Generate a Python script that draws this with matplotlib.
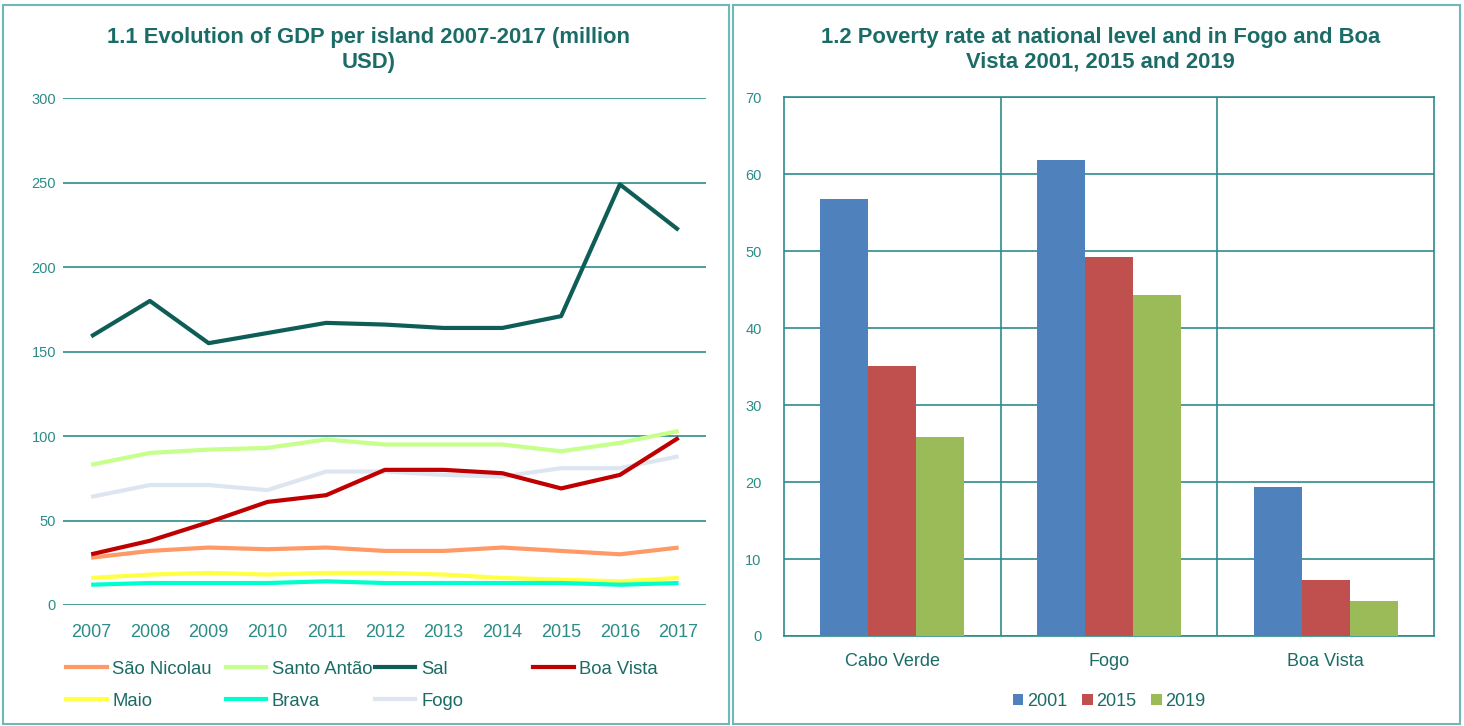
import matplotlib.pyplot as plt
import numpy as np
from matplotlib.patches import Rectangle
from matplotlib.lines import Line2D

plt.rcParams['font.family'] = ['Liberation Sans', 'DejaVu Sans']

# GDP per island, million USD
years = list(range(2007, 2018))
sao_nicolau = [28, 32, 34, 33, 34, 32, 32, 34, 32, 30, 34]
santo_antao = [83, 90, 92, 93, 98, 95, 95, 95, 91, 96, 103]
sal = [159, 180, 155, 161, 167, 166, 164, 164, 171, 249, 222]
boa_vista = [30, 38, 49, 61, 65, 80, 80, 78, 69, 77, 99]
maio = [16, 18, 19, 18, 19, 19, 18, 16, 15, 14, 16]
brava = [12, 13, 13, 13, 14, 13, 13, 13, 13, 12, 13]
fogo = [64, 71, 71, 68, 79, 79, 77, 76, 81, 81, 88]

# poverty rate
places = ['Cabo Verde', 'Fogo', 'Boa Vista']
pov_2001 = [56.8, 61.9, 19.3]
pov_2015 = [35.1, 49.3, 7.3]
pov_2019 = [25.8, 44.3, 4.5]

teal_dark = '#1b6b66'
teal_tick = '#2b8c88'
grid_col = '#2e8b8b'
border = '#6fb8b8'

fig = plt.figure(figsize=(14.64, 7.26), dpi=100)

# panel borders
fig.patches.append(Rectangle((0.002, 0.003), 0.496, 0.990, transform=fig.transFigure,
                             fill=False, ec=border, lw=1.5))
fig.patches.append(Rectangle((0.501, 0.003), 0.496, 0.990, transform=fig.transFigure,
                             fill=False, ec=border, lw=1.5))

# ---- left: lines ----
ax1 = fig.add_axes([0.043, 0.1667, 0.439, 0.698])
series = [
    ('São Nicolau', sao_nicolau, '#ff9966'),
    ('Santo Antão', santo_antao, '#c6ff8c'),
    ('Sal', sal, '#0e5e57'),
    ('Boa Vista', boa_vista, '#c00000'),
    ('Maio', maio, '#ffff44'),
    ('Brava', brava, '#00ffcc'),
    ('Fogo', fogo, '#dde6f0'),
]
draw_order = ['Fogo', 'Santo Antão', 'São Nicolau', 'Maio', 'Brava', 'Boa Vista', 'Sal']
lookup = {n: (v, c) for n, v, c in series}
for n in draw_order:
    v, c = lookup[n]
    ax1.plot(years, v, color=c, lw=3, solid_capstyle='butt', zorder=3)

ax1.set_xlim(2006.52, 2017.46)
ax1.set_ylim(0, 300)
ax1.set_yticks(range(0, 301, 50))
ax1.set_xticks(years)
ax1.yaxis.grid(True, color=grid_col, lw=1.2)
ax1.set_axisbelow(True)
for s in ax1.spines.values():
    s.set_visible(False)
ax1.tick_params(axis='both', length=0)
ax1.tick_params(axis='y', labelsize=10.5, labelcolor=teal_tick, pad=5)
ax1.tick_params(axis='x', labelsize=13, labelcolor=teal_tick, pad=14)
fig.text(0.252, 0.963, '1.1 Evolution of GDP per island 2007-2017 (million\nUSD)',
         ha='center', va='top', fontsize=15.8, fontweight='bold', color=teal_dark,
         linespacing=1.25)

# legend, one small legend per column so columns sit evenly
cols = [['São Nicolau', 'Maio'], ['Santo Antão', 'Brava'], ['Sal', 'Fogo'], ['Boa Vista']]
col_x = [0.040, 0.149, 0.251, 0.359]
for names, xpos in zip(cols, col_x):
    handles = [Line2D([], [], color=lookup[n][1], lw=3) for n in names]
    leg = fig.legend(handles, names, loc='upper left', bbox_to_anchor=(xpos, 0.1),
                     frameon=False, fontsize=13.3, handlelength=2.2, handletextpad=0.3,
                     labelspacing=0.8, borderaxespad=0)
    for t in leg.get_texts():
        t.set_color(teal_dark)

# ---- right: bars ----
ax2 = fig.add_axes([0.5355, 0.124, 0.444, 0.742])
x = np.arange(len(places))
w = 0.222
ax2.bar(x - w, pov_2001, w, color='#4f81bd', label='2001', zorder=3)
ax2.bar(x, pov_2015, w, color='#c0504d', label='2015', zorder=3)
ax2.bar(x + w, pov_2019, w, color='#9bbb59', label='2019', zorder=3)
ax2.set_xlim(-0.5, 2.5)
ax2.set_ylim(0, 70)
ax2.set_yticks(range(0, 71, 10))
ax2.set_xticks(x)
ax2.set_xticklabels(places)
ax2.set_xticks([0.5, 1.5], minor=True)
ax2.yaxis.grid(True, color=grid_col, lw=1.2)
ax2.xaxis.grid(True, which='minor', color=grid_col, lw=1.2)
ax2.set_axisbelow(True)
for s in ax2.spines.values():
    s.set_color(grid_col)
    s.set_linewidth(1.2)
ax2.tick_params(axis='both', which='both', length=0)
ax2.tick_params(axis='y', labelsize=10.5, labelcolor=teal_tick, pad=16)
ax2.tick_params(axis='x', labelsize=13, labelcolor=teal_dark, pad=12)
fig.text(0.752, 0.963, '1.2 Poverty rate at national level and in Fogo and Boa\nVista 2001, 2015 and 2019',
         ha='center', va='top', fontsize=15.8, fontweight='bold', color=teal_dark,
         linespacing=1.25)
leg2 = ax2.legend(loc='upper center', bbox_to_anchor=(0.5, -0.075), ncol=3, frameon=False,
                  fontsize=13, handlelength=0.6, handleheight=0.6, handletextpad=0.2,
                  columnspacing=0.8)
for t in leg2.get_texts():
    t.set_color(teal_dark)

fig.savefig('out.png', dpi=100)
